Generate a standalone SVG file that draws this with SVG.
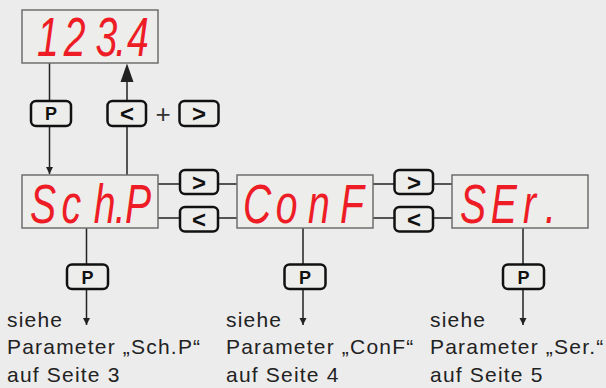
<svg xmlns="http://www.w3.org/2000/svg" width="606" height="388" viewBox="0 0 606 388">
<defs>
<style>
.bg{fill:#ececec}
.disp{fill:#ededec;stroke:#6e6e6e;stroke-width:1.5}
.seg{font-family:"Liberation Sans",Arial,sans-serif;font-style:italic;font-size:56px;fill:#ee1c25}
.btn{fill:#ededec;stroke:#111;stroke-width:2.5}
.bl{font-family:"Liberation Sans",Arial,sans-serif;font-weight:bold;font-size:18px;fill:#111;text-anchor:middle}
.ar{font-family:"Liberation Sans",Arial,sans-serif;font-weight:bold;font-size:24px;fill:#111;text-anchor:middle}
.ln{stroke:#222;stroke-width:1.5;fill:none}
.lbl{font-family:"Liberation Sans",Arial,sans-serif;font-size:21px;letter-spacing:1.2px;fill:#222}
</style>
<marker id="ah" markerWidth="8" markerHeight="10" refX="7" refY="3.5" orient="auto" markerUnits="userSpaceOnUse">
<path d="M0,0 L7,3.5 L0,7 Z" fill="#222"/>
</marker>
</defs>
<rect class="bg" x="0" y="0" width="606" height="388"/>

<g id="connectors">
<line class="ln" x1="49.5" y1="63" x2="49.5" y2="101"/>
<line class="ln" x1="49.5" y1="126" x2="49.5" y2="174" marker-end="url(#ah)"/>
<line class="ln" x1="127" y1="175" x2="127" y2="126"/>
<line class="ln" x1="127" y1="101" x2="127" y2="80"/>
<path d="M120.5,82 L127,63.5 L133.5,82 Z" fill="#222"/>
<line class="ln" x1="158" y1="184" x2="180" y2="184"/>
<line class="ln" x1="218" y1="184" x2="237" y2="184"/>
<line class="ln" x1="158" y1="218" x2="180" y2="218"/>
<line class="ln" x1="218" y1="218" x2="237" y2="218"/>
<line class="ln" x1="373" y1="184" x2="394" y2="184"/>
<line class="ln" x1="433" y1="184" x2="452" y2="184"/>
<line class="ln" x1="373" y1="218" x2="394" y2="218"/>
<line class="ln" x1="433" y1="218" x2="452" y2="218"/>
<line class="ln" x1="86.5" y1="228" x2="86.5" y2="264"/>
<line class="ln" x1="86.5" y1="289" x2="86.5" y2="325" marker-end="url(#ah)"/>
<line class="ln" x1="303" y1="228" x2="303" y2="264"/>
<line class="ln" x1="303" y1="289" x2="303" y2="325" marker-end="url(#ah)"/>
<line class="ln" x1="523" y1="228" x2="523" y2="264"/>
<line class="ln" x1="523" y1="289" x2="523" y2="325" marker-end="url(#ah)"/>
</g>

<g id="display-main">
<rect class="disp" x="22" y="10" width="136" height="53"/>
<g transform="scale(0.7,1)"><text class="seg" x="53 91 136.5 164.5 181.4" y="56">123.4</text></g>
</g>
<g id="display-schp">
<rect class="disp" x="22" y="175" width="136" height="53"/>
<g transform="scale(0.7,1)"><text class="seg" x="42.9 88 134 164 178.6" y="223">Sch.P</text></g>
</g>
<g id="display-conf">
<rect class="disp" x="237" y="175" width="136" height="53"/>
<g transform="scale(0.7,1)"><text class="seg" x="347 394 440 485.7" y="223">ConF</text></g>
</g>
<g id="display-ser">
<rect class="disp" x="452" y="175" width="136" height="53"/>
<g transform="scale(0.7,1)"><text class="seg" x="657 701 747 778.6" y="223">SEr.</text></g>
</g>

<g id="btn-p-top">
<rect class="btn" x="31" y="101" width="40" height="25" rx="5"/>
<text class="bl" x="51" y="120">P</text>
</g>
<g id="btn-left-top">
<rect class="btn" x="107.5" y="101" width="38.5" height="25" rx="5"/>
<text class="ar" x="127" y="122">&lt;</text>
</g>
<text id="plus" x="163" y="122.5" font-family="Liberation Sans, Arial, sans-serif" font-size="26" fill="#333" text-anchor="middle">+</text>
<g id="btn-right-top">
<rect class="btn" x="179.5" y="101" width="39" height="25" rx="5"/>
<text class="ar" x="199" y="122">&gt;</text>
</g>

<g id="btn-r1">
<rect class="btn" x="180" y="170" width="38" height="24" rx="5"/>
<text class="ar" x="199" y="190.5">&gt;</text>
</g>
<g id="btn-l1">
<rect class="btn" x="180" y="207" width="38" height="24.5" rx="5"/>
<text class="ar" x="199" y="227.5">&lt;</text>
</g>
<g id="btn-r2">
<rect class="btn" x="394.5" y="170" width="38.5" height="24" rx="5"/>
<text class="ar" x="414" y="190.5">&gt;</text>
</g>
<g id="btn-l2">
<rect class="btn" x="394.5" y="207" width="38.5" height="24.5" rx="5"/>
<text class="ar" x="414" y="227.5">&lt;</text>
</g>

<g id="btn-p1">
<rect class="btn" x="67" y="264.5" width="41" height="24.5" rx="5"/>
<text class="bl" x="87.5" y="283.5">P</text>
</g>
<g id="btn-p2">
<rect class="btn" x="284.5" y="264.5" width="41" height="24.5" rx="5"/>
<text class="bl" x="305" y="283.5">P</text>
</g>
<g id="btn-p3">
<rect class="btn" x="503" y="264.5" width="41" height="24.5" rx="5"/>
<text class="bl" x="523.5" y="283.5">P</text>
</g>

<g id="label-1">
<text class="lbl" x="7" y="327">siehe</text>
<text class="lbl" x="7" y="354">Parameter „Sch.P“</text>
<text class="lbl" x="7" y="381.5">auf Seite 3</text>
</g>
<g id="label-2">
<text class="lbl" x="226" y="327">siehe</text>
<text class="lbl" x="226" y="354">Parameter „ConF“</text>
<text class="lbl" x="226" y="381.5">auf Seite 4</text>
</g>
<g id="label-3">
<text class="lbl" x="430" y="327">siehe</text>
<text class="lbl" x="430" y="354">Parameter „Ser.“</text>
<text class="lbl" x="430" y="381.5">auf Seite 5</text>
</g>
</svg>
